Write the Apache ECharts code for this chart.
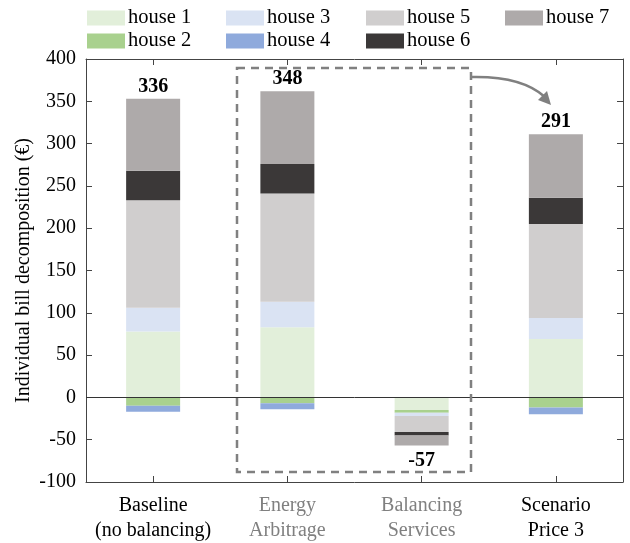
<!DOCTYPE html>
<html>
<head>
<meta charset="utf-8">
<script src="https://cdn.jsdelivr.net/npm/echarts@6/dist/echarts.min.js"></script>
<style>
  html, body { margin: 0; padding: 0; background: #fff; }
  #chart { width: 630px; height: 543px; }
</style>
</head>
<body>
<div id="chart"></div>
<script>
// Scenarios on the x axis
const categories = ['Baseline\n(no balancing)', 'Energy\nArbitrage', 'Balancing\nServices', 'Scenario\nPrice 3'];
// Scenarios whose label is greyed out (inside the dashed group)
const greyed = [false, true, true, false];

// Bill contribution per house (€)
const house1 = [78, 83, -15, 69];
const house2 = [-10, -7, -3, -12];
const house3 = [28, 30, -4, 25];
const house4 = [-7, -7, 0, -8];
const house5 = [127, 128, -19, 111];
const house6 = [35, 35, -4, 31];
const house7 = [85, 86, -12, 75];

const houseNames = ['house 1', 'house 2', 'house 3', 'house 4', 'house 5', 'house 6', 'house 7'];
const houseValues = [house1, house2, house3, house4, house5, house6, house7];
const houseColors = ['#e2efda', '#a9d18e', '#dae3f3', '#8faadc', '#d0cece', '#3b3838', '#aeaaaa'];

// Y axis ticks
const yMin = -100, yMax = 400, yStep = 50;

const FONT = '"Liberation Serif", "Times New Roman", serif';

// Net bill per scenario = sum over all houses
const totals = categories.map((_, i) => houseValues.reduce((s, arr) => s + arr[i], 0));

const chart = echarts.init(document.getElementById('chart'), null, { renderer: 'canvas' });

const series = houseNames.map((name, k) => {
  const isLast = k === houseNames.length - 1;
  const data = houseValues[k].map((v, i) => {
    if (!isLast) return v;
    // total label sits on the outermost segment of each bar
    return {
      value: v,
      label: {
        show: true,
        position: totals[i] >= 0 ? 'top' : 'bottom',
        distance: totals[i] >= 0 ? 2 : 5,
        formatter: () => String(totals[i])
      }
    };
  });
  const s = {
    name: name,
    type: 'bar',
    stack: 'bill',
    barWidth: 54,
    itemStyle: { color: houseColors[k] },
    label: { fontFamily: FONT, fontSize: 20, fontWeight: 'bold', color: '#000' },
    emphasis: { disabled: true },
    data: data
  };
  if (k === 0) {
    s.markLine = {
      silent: true,
      symbol: 'none',
      label: { show: false },
      lineStyle: { color: '#333', width: 1, type: 'solid' },
      data: [{ yAxis: 0 }]
    };
  }
  return s;
});

// Legend laid out column by column: (1,2) (3,4) (5,6) (7)
const legendCols = [['house 1', 'house 2'], ['house 3', 'house 4'], ['house 5', 'house 6'], ['house 7']];
const legendLeft = [87, 226, 366, 505];
const legends = legendCols.map((items, c) => ({
  data: items,
  orient: 'vertical',
  left: legendLeft[c],
  top: 7,
  padding: 0,
  itemGap: 1,
  itemWidth: 38,
  itemHeight: 15,
  icon: 'rect',
  selectedMode: false,
  textStyle: { fontFamily: FONT, fontSize: 20.5, color: '#000', lineHeight: 22, padding: [0, 0, 0, -2] }
}));

const axisLineStyle = { color: '#444', width: 1 };

chart.setOption({
  animation: false,
  backgroundColor: '#fff',
  legend: legends,
  grid: { left: 86, right: 7, top: 59, bottom: 61, containLabel: false },
  xAxis: [
    {
      type: 'category',
      data: categories,
      position: 'bottom',
      boundaryGap: true,
      axisLine: { show: true, onZero: false, lineStyle: axisLineStyle },
      axisTick: { show: true, inside: true, alignWithLabel: true, interval: 0, length: 6, lineStyle: axisLineStyle },
      axisLabel: {
        interval: 0,
        margin: 11,
        fontFamily: FONT,
        fontSize: 20,
        lineHeight: 25,
        formatter: (value, idx) => {
          const tag = greyed[idx] ? 'g' : 'b';
          return value.split('\n').map(line => '{' + tag + '|' + line + '}').join('\n');
        },
        rich: {
          b: { fontFamily: FONT, fontSize: 20, lineHeight: 25, color: '#000' },
          g: { fontFamily: FONT, fontSize: 20, lineHeight: 25, color: '#808080' }
        }
      },
      splitLine: { show: false }
    },
    {
      type: 'category',
      data: categories,
      position: 'top',
      boundaryGap: true,
      axisLine: { show: true, onZero: false, lineStyle: axisLineStyle },
      axisTick: { show: true, inside: true, alignWithLabel: true, interval: 0, length: 6, lineStyle: axisLineStyle },
      axisLabel: { show: false },
      splitLine: { show: false }
    }
  ],
  yAxis: [
    {
      type: 'value',
      min: yMin, max: yMax, interval: yStep,
      position: 'left',
      name: 'Individual bill decomposition (€)',
      nameLocation: 'middle',
      nameGap: 52,
      nameMoveOverlap: false,
      nameTextStyle: { fontFamily: FONT, fontSize: 20, color: '#000' },
      axisLine: { show: true, onZero: false, lineStyle: axisLineStyle },
      axisTick: { show: true, inside: true, length: 6, lineStyle: axisLineStyle },
      axisLabel: { margin: 10, fontFamily: FONT, fontSize: 20, color: '#000' },
      splitLine: { show: false }
    },
    {
      type: 'value',
      min: yMin, max: yMax, interval: yStep,
      position: 'right',
      axisLine: { show: true, onZero: false, lineStyle: axisLineStyle },
      axisTick: { show: true, inside: true, length: 6, lineStyle: axisLineStyle },
      axisLabel: { show: false },
      splitLine: { show: false }
    }
  ],
  series: series,
  graphic: [
    // dashed group around the two component scenarios
    {
      type: 'rect',
      shape: { x: 237, y: 68, width: 234, height: 404 },
      style: { fill: 'none', stroke: '#808080', lineWidth: 2.5, lineDash: [8, 6] },
      silent: true,
      z: 100
    },
    // curved arrow pointing to the combined scenario
    {
      type: 'bezierCurve',
      shape: { x1: 472, y1: 77, cpx1: 522, cpy1: 76, x2: 545, y2: 97 },
      style: { fill: 'none', stroke: '#808080', lineWidth: 2.5 },
      silent: true,
      z: 100
    },
    {
      type: 'polygon',
      shape: { points: [[551, 105], [538, 100], [547, 91]] },
      style: { fill: '#808080' },
      silent: true,
      z: 100
    }
  ]
});
</script>
</body>
</html>
